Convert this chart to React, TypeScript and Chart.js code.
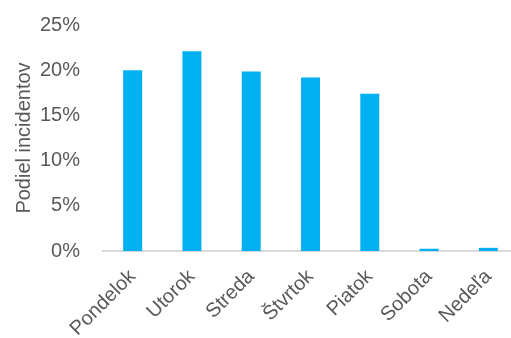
import React, { useEffect, useRef } from "react";
import { Chart, registerables } from "chart.js";

Chart.register(...registerables);

const categories = ["Pondelok", "Utorok", "Streda", "Štvrtok", "Piatok", "Sobota", "Nedeľa"];
const values = [20.0, 22.1, 19.85, 19.2, 17.4, 0.25, 0.35];
const yTicks = [0, 5, 10, 15, 20, 25];
const yTitle = "Podiel incidentov";

export default function App() {
  const ref = useRef<HTMLCanvasElement | null>(null);
  useEffect(() => {
    if (!ref.current) return;
    const font = "'Liberation Sans', Arial, sans-serif";
    const chart = new Chart(ref.current, {
      type: "bar",
      data: {
        labels: categories,
        datasets: [
          {
            data: values,
            backgroundColor: "#00B0F0",
            borderWidth: 0,
            barPercentage: 0.32,
            categoryPercentage: 1,
          },
        ],
      },
      options: {
        animation: false,
        responsive: false,
        maintainAspectRatio: false,
        layout: { padding: { top: 13, right: 4, bottom: 0, left: 0 } },
        plugins: { legend: { display: false }, tooltip: { enabled: false } },
        scales: {
          x: {
            grid: { display: false, drawTicks: false },
            border: { display: true, color: "#D9D9D9", width: 2 },
            ticks: {
              color: "#595959",
              font: { family: font, size: 20 },
              maxRotation: 45,
              minRotation: 45,
              padding: 14,
              autoSkip: false,
            },
            afterFit: (s: any) => {
              s.height = 87;
            },
          },
          y: {
            min: 0,
            max: 25,
            afterBuildTicks: (s: any) => {
              s.ticks = yTicks.map((v) => ({ value: v }));
            },
            grid: { display: false, drawTicks: false },
            border: { display: false },
            ticks: {
              color: "#595959",
              font: { family: font, size: 20 },
              padding: 23,
              callback: (v: any) => v + "%",
            },
            title: {
              display: true,
              text: yTitle,
              color: "#595959",
              font: { family: font, size: 20 },
              padding: { top: 12, bottom: 4 },
            },
            afterFit: (s: any) => {
              s.width = 103;
            },
          },
        },
      },
    });
    return () => chart.destroy();
  }, []);
  return (
    <div style={{ position: "fixed", left: 0, top: 0, width: 522, height: 338, overflow: "hidden", background: "#fff" }}>
      <canvas
        ref={ref}
        width={522}
        height={348}
        style={{ width: 522, height: 348, display: "block", position: "absolute", left: 0, top: -10 }}
      />
    </div>
  );
}
